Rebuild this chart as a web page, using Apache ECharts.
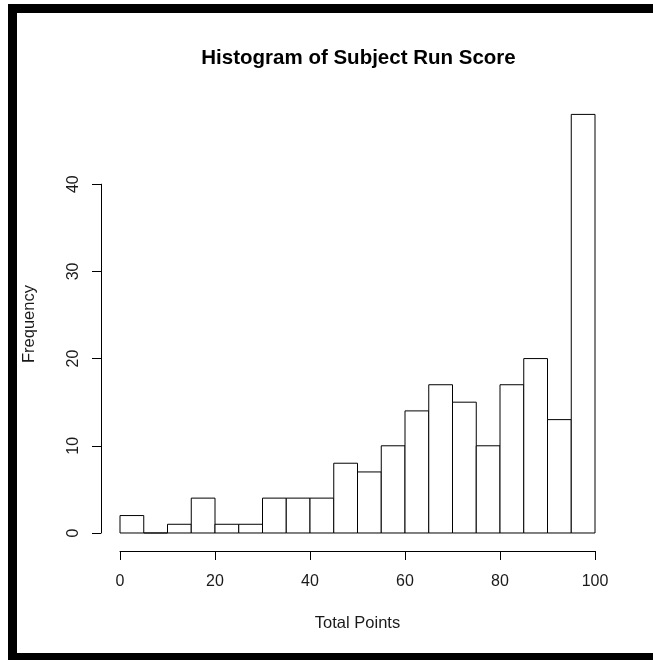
<!DOCTYPE html>
<html>
<head>
<meta charset="utf-8">
<script src="https://cdn.jsdelivr.net/npm/echarts@6/dist/echarts.min.js"></script>
<style>
html,body{margin:0;padding:0;background:#fff;}
#chart{width:653px;height:660px;}
</style>
</head>
<body>
<div id="chart"></div>
<script>
// ---- data ----
const binEdges = [0,5,10,15,20,25,30,35,40,45,50,55,60,65,70,75,80,85,90,95,100];
const counts = [2,0,1,4,1,1,4,4,4,8,7,10,14,17,15,10,17,20,13,48];
const xTicks = [0,20,40,60,80,100];
const yTicks = [0,10,20,30,40];
const titleText = 'Histogram of Subject Run Score';
const xName = 'Total Points';
const yName = 'Frequency';

const histData = counts.map((c, i) => [binEdges[i], binEdges[i + 1], c]);

const FONT = '"Liberation Sans", Arial, sans-serif';
const TXT = '#1a1a1a';

const chart = echarts.init(document.getElementById('chart'), null, {renderer: 'canvas'});
chart.setOption({
  animation: false,
  backgroundColor: '#fff',
  title: {
    text: titleText,
    left: 353.5,
    top: 43,
    textAlign: 'center',
    textStyle: {fontFamily: FONT, fontWeight: 'bold', fontSize: 20.5, color: '#000'}
  },
  grid: [
    {left: 120, right: 58, top: 98, bottom: 110},
    {left: 120, right: 58, top: 184.2, bottom: 127}
  ],
  xAxis: [
    {
      gridIndex: 0, type: 'value', min: 0, max: 100, offset: 1,
      axisLine: {show: true, onZero: false, lineStyle: {color: '#000', width: 1}},
      axisTick: {show: true, length: 9, customValues: xTicks, lineStyle: {color: '#000'}},
      axisLabel: {show: true, customValues: xTicks, margin: 23, fontFamily: FONT, fontSize: 16, color: TXT},
      splitLine: {show: false},
      name: xName, nameLocation: 'middle', nameGap: 64,
      nameTextStyle: {fontFamily: FONT, fontSize: 16.5, color: TXT}
    },
    {gridIndex: 1, type: 'value', min: 0, max: 100, show: false}
  ],
  yAxis: [
    {
      gridIndex: 0, type: 'value', min: -1.95, max: 49.88,
      axisLine: {show: false, onZero: false}, axisTick: {show: false}, axisLabel: {show: false},
      splitLine: {show: false},
      name: yName, nameLocation: 'middle', nameGap: 82,
      nameTextStyle: {fontFamily: FONT, fontSize: 16.5, color: TXT}
    },
    {
      gridIndex: 1, type: 'value', min: 0, max: 40, interval: 10, offset: 19,
      axisLine: {show: true, onZero: false, lineStyle: {color: '#000', width: 1}},
      axisTick: {show: true, length: 9, customValues: yTicks, lineStyle: {color: '#000'}},
      axisLabel: {show: true, customValues: yTicks, rotate: 90, margin: 19, fontFamily: FONT, fontSize: 16, color: TXT},
      splitLine: {show: false}
    }
  ],
  series: [{
    type: 'custom',
    xAxisIndex: 0, yAxisIndex: 0,
    data: histData,
    renderItem: function (params, api) {
      const p0 = api.coord([api.value(0), 0]);
      const p1 = api.coord([api.value(1), api.value(2)]);
      return {
        type: 'rect',
        shape: {x: p0[0], y: p1[1], width: p1[0] - p0[0], height: p0[1] - p1[1]},
        style: {fill: '#fff', stroke: '#000', lineWidth: 1}
      };
    }
  }],
  graphic: [
    {type: 'rect', shape: {x: 8, y: 4, width: 645, height: 9}, style: {fill: '#000'}, silent: true},
    {type: 'rect', shape: {x: 8, y: 4, width: 9, height: 656}, style: {fill: '#000'}, silent: true},
    {type: 'rect', shape: {x: 8, y: 653, width: 645, height: 7}, style: {fill: '#000'}, silent: true}
  ]
});
</script>
</body>
</html>
